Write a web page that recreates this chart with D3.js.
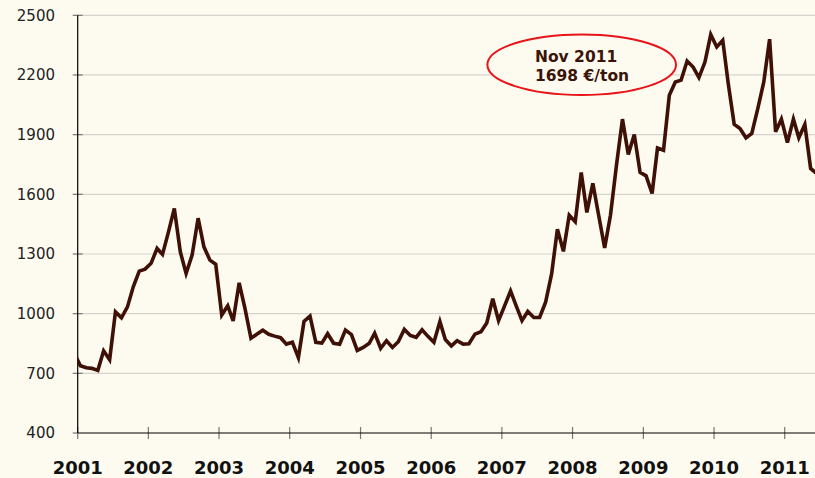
<!DOCTYPE html>
<html><head><meta charset="utf-8">
<script src="https://cdn.jsdelivr.net/npm/d3@7"></script>
<style>
html,body{margin:0;padding:0;background:#fdfbf0;}
svg{display:block;}
</style>
</head><body>
<svg id="chart" width="815" height="478"></svg>
<script>
// ---- data ----
const yearLabels = ["2001","2002","2003","2004","2005","2006","2007","2008","2009","2010","2011"];
const yTickValues = [400, 700, 1000, 1300, 1600, 1900, 2200, 2500];
const firstMonth = { year: 2000, month: 11 }; // Dec 2000 (monthly series, mid-month)
const prices = [
  800, 738, 728, 725, 715, 813, 768, 1009, 979, 1034, 1135, 1214,
  1224, 1253, 1328, 1298, 1411, 1529, 1311, 1202, 1294, 1480, 1336, 1269,
  1248, 993, 1040, 963, 1155, 1027, 876, 896, 917, 896, 887, 879,
  847, 856, 779, 961, 988, 856, 852, 899, 851, 846, 917, 895,
  815, 830, 851, 902, 826, 864, 830, 859, 921, 890, 881, 919,
  886, 856, 960, 870, 838, 864, 847, 849, 897, 909, 953, 1075,
  965, 1039, 1114, 1042, 965, 1011, 981, 981, 1058, 1200, 1425, 1313,
  1495, 1462, 1710, 1509, 1655, 1495, 1331, 1495, 1746, 1978, 1800, 1901,
  1710, 1693, 1604, 1833, 1822, 2098, 2165, 2174, 2270, 2240, 2187, 2265,
  2403, 2341, 2374, 2160, 1952, 1931, 1884, 1906, 2031, 2165, 2380, 1914,
  1978, 1860, 1978, 1884, 1951, 1730, 1705
];
const annotationLines = ["Nov 2011", "1698 €/ton"];

// ---- layout ----
const svg = d3.select("#chart");
const W = 815, H = 478;
const plotLeft = 77.7, plotTop = 15.3, plotBottom = 433;
const bg = "#fdfbf0";

svg.append("rect").attr("width", W).attr("height", H).attr("fill", bg);

const x = d3.scaleTime()
  .domain([new Date(2001, 0, 1), new Date(2011, 0, 1)])
  .range([plotLeft, 784.7]);
const y = d3.scaleLinear().domain([400, 2500]).range([plotBottom, plotTop]);

const data = prices.map((v, i) => ({ date: new Date(firstMonth.year, firstMonth.month + i, 15), value: v }));
const yearDates = yearLabels.map(s => new Date(+s, 0, 1));

// gridlines
svg.append("g").selectAll("line")
  .data(yTickValues.filter(v => v > 400))
  .join("line")
  .attr("x1", plotLeft).attr("x2", W)
  .attr("y1", d => y(d)).attr("y2", d => y(d))
  .attr("stroke", "#d6d4cc").attr("stroke-width", 1.2);

// y tick marks
svg.append("g").selectAll("line")
  .data(yTickValues)
  .join("line")
  .attr("x1", plotLeft - 5).attr("x2", d => d === 400 ? plotLeft : plotLeft + 5)
  .attr("y1", d => y(d)).attr("y2", d => y(d))
  .attr("stroke", "#777").attr("stroke-width", 1.2);

// y labels via axis generator
const yAxis = svg.append("g")
  .attr("transform", `translate(${55},0)`)
  .call(d3.axisLeft(y).tickValues(yTickValues).tickSize(0).tickPadding(0).tickFormat(d3.format("d")));
yAxis.select(".domain").remove();
yAxis.selectAll("text")
  .attr("font-family", "'DejaVu Sans', Verdana, sans-serif")
  .attr("font-size", 15).attr("fill", "#222").attr("text-anchor", "end");

// x tick marks
svg.append("g").selectAll("line")
  .data(yearDates)
  .join("line")
  .attr("x1", d => x(d)).attr("x2", d => x(d))
  .attr("y1", plotBottom - 6).attr("y2", plotBottom + 6)
  .attr("stroke", "#777").attr("stroke-width", 1.2);

// x labels
svg.append("g").selectAll("text")
  .data(yearDates)
  .join("text")
  .attr("x", d => x(d)).attr("y", 474)
  .attr("text-anchor", "middle")
  .attr("font-family", "'DejaVu Sans', Verdana, sans-serif")
  .attr("font-weight", "bold").attr("font-size", 18).attr("fill", "#111")
  .text((d, i) => yearLabels[i]);

// axes lines
svg.append("line").attr("x1", plotLeft).attr("x2", plotLeft).attr("y1", plotTop).attr("y2", plotBottom)
  .attr("stroke", "#000").attr("stroke-width", 1.2);
svg.append("line").attr("x1", plotLeft).attr("x2", W).attr("y1", plotBottom).attr("y2", plotBottom)
  .attr("stroke", "#000").attr("stroke-width", 1.2);

// clip + price line
svg.append("clipPath").attr("id", "plotclip")
  .append("rect").attr("x", plotLeft).attr("y", 0).attr("width", W - plotLeft + 20).attr("height", H);

const line = d3.line().x(d => x(d.date)).y(d => y(d.value));
svg.append("path")
  .datum(data)
  .attr("clip-path", "url(#plotclip)")
  .attr("d", line)
  .attr("fill", "none")
  .attr("stroke", "#3f1005")
  .attr("stroke-width", 3.6)
  .attr("stroke-linejoin", "miter")
  .attr("stroke-miterlimit", 4);

// annotation
const ann = svg.append("g");
ann.append("ellipse")
  .attr("cx", 581.7).attr("cy", 64.7).attr("rx", 94.3).attr("ry", 30.3)
  .attr("fill", bg).attr("stroke", "#e8141a").attr("stroke-width", 2);
ann.selectAll("text")
  .data(annotationLines)
  .join("text")
  .attr("x", 535).attr("y", (d, i) => 61.5 + i * 19.5)
  .attr("font-family", "'DejaVu Sans', Verdana, sans-serif")
  .attr("font-weight", "bold").attr("font-size", 15.5).attr("fill", "#3b1409")
  .text(d => d);
</script>
</body></html>
